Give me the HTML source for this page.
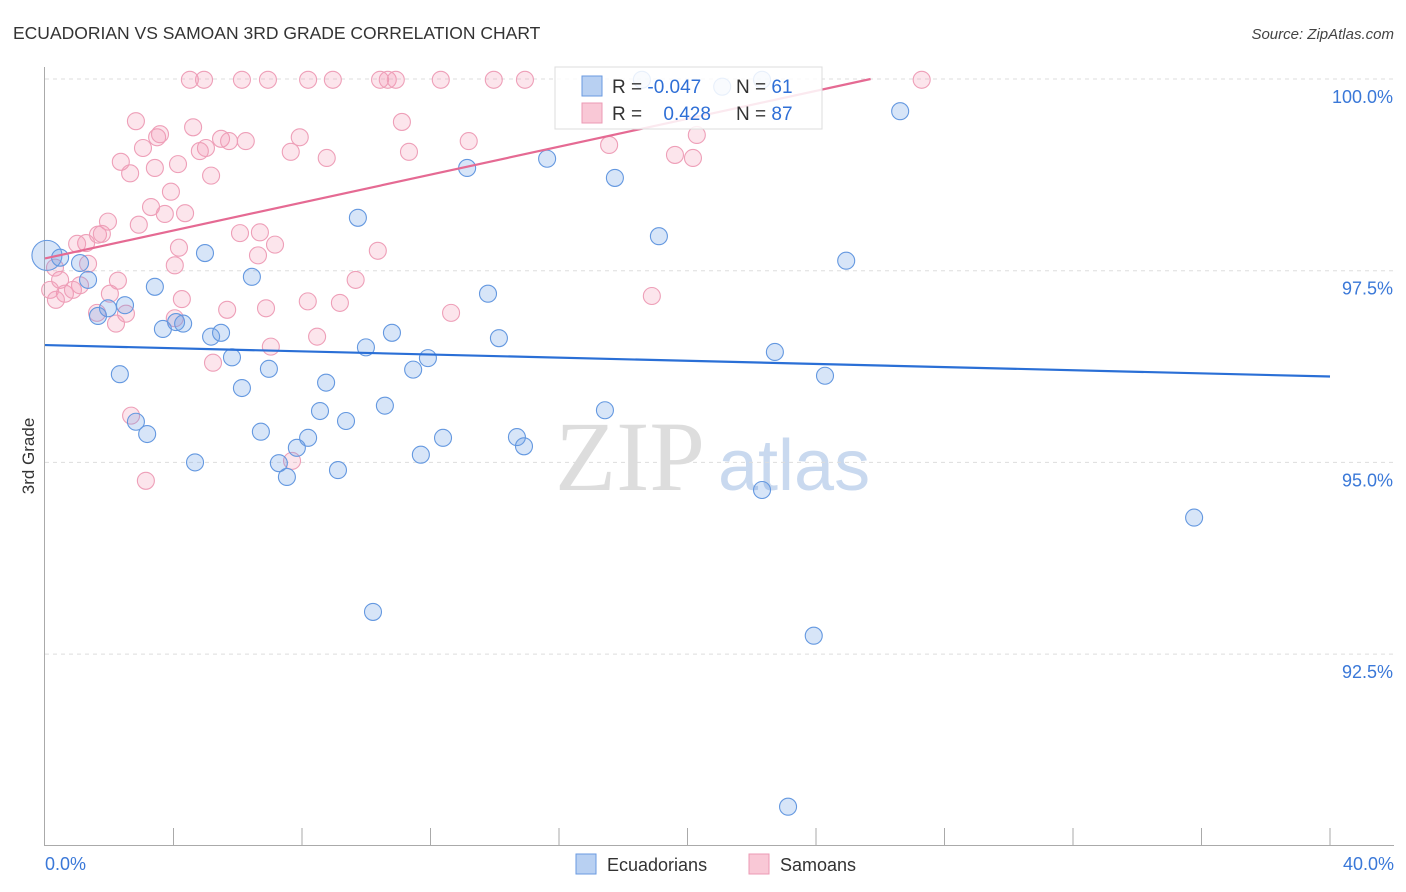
<!DOCTYPE html>
<html><head><meta charset="utf-8"><style>
body{margin:0;background:#fff;font-family:"Liberation Sans",sans-serif;}
#wrap{position:relative;width:1406px;height:892px;overflow:hidden;}
</style></head><body>
<div id="wrap">
<svg id="svg" width="1406" height="892" xmlns="http://www.w3.org/2000/svg">
<text x="13" y="39" font-size="17.5" fill="#333">ECUADORIAN VS SAMOAN 3RD GRADE CORRELATION CHART</text>
<text x="1394" y="39" font-size="15" fill="#444" font-style="italic" text-anchor="end">Source: ZipAtlas.com</text>
<text transform="translate(34,456) rotate(-90)" font-size="17" fill="#333" text-anchor="middle">3rd Grade</text>
<text x="555" y="490" font-size="100" fill="#ddd" font-family="Liberation Serif,serif">ZIP</text>
<text x="718" y="490" font-size="72" fill="#c9d9ef">atlas</text>
<g id="grid"></g><g id="pts"></g><g id="lines"></g>
<g>
<rect x="555" y="67" width="267" height="62" fill="rgba(255,255,255,0.85)" stroke="#ddd"/>
<rect x="582" y="76" width="20" height="20" fill="#b8d0f2" stroke="#6a9ae0"/>
<rect x="582" y="103" width="20" height="20" fill="#f9c8d6" stroke="#ec9ab4"/>
<text x="612" y="93" font-size="19" fill="#333">R = <tspan fill="#2f6fd6">-0.047</tspan></text>
<text x="736" y="93" font-size="19" fill="#333">N = <tspan fill="#2f6fd6"> 61</tspan></text>
<text x="612" y="120" font-size="19" fill="#333">R = <tspan fill="#2f6fd6" dx="16">0.428</tspan></text>
<text x="736" y="120" font-size="19" fill="#333">N = <tspan fill="#2f6fd6">87</tspan></text>
</g>
<g>
<rect x="576" y="854" width="20" height="20" fill="#b8d0f2" stroke="#6a9ae0"/>
<text x="607" y="871" font-size="18" fill="#333">Ecuadorians</text>
<rect x="749" y="854" width="20" height="20" fill="#f9c8d6" stroke="#ec9ab4"/>
<text x="780" y="871" font-size="18" fill="#333">Samoans</text>
</g>
</svg>
</div>
<script>
const yTicks=[100,97.5,95,92.5];
const yTickLabels=["100.0%","97.5%","95.0%","92.5%"];
const xTickLabels=["0.0%","40.0%"];
const blueX=[0.06,0.47,1.09,1.34,1.65,1.96,2.49,2.33,2.83,3.18,3.42,3.67,4.08,4.3,4.67,4.98,5.17,5.48,5.82,6.13,6.44,6.72,6.97,7.28,7.53,7.84,8.19,8.56,8.75,9.12,9.37,9.74,9.99,10.21,10.58,10.8,11.46,11.7,11.92,12.39,13.14,13.79,14.13,14.69,14.91,15.63,17.43,17.74,18.58,19.11,21.08,22.32,22.32,22.72,23.13,23.93,24.28,24.94,26.62,35.77];
const blueY=[97.7,97.67,97.6,97.38,96.91,97.01,97.05,96.15,95.53,95.37,97.29,96.74,96.83,96.81,95.0,97.73,96.64,96.69,96.37,95.97,97.42,95.4,96.22,94.99,94.81,95.19,95.32,95.67,96.04,94.9,95.54,98.19,96.5,93.05,95.74,96.69,96.21,95.1,96.36,95.32,98.84,97.2,96.62,95.33,95.21,98.96,95.68,98.71,99.99,97.95,99.9,99.99,94.64,96.44,90.51,92.74,96.13,97.63,99.58,94.28];
const pinkX=[4.51,4.95,6.13,6.94,8.19,8.96,10.43,10.67,10.92,12.32,13.97,14.94,27.29,2.83,3.05,3.49,3.58,4.61,4.14,5.01,4.82,5.48,5.73,6.25,7.93,7.65,8.77,11.11,11.33,13.19,2.36,2.65,3.42,5.17,3.92,3.30,3.73,4.36,2.92,1.96,1.28,1.0,1.65,1.77,6.07,6.69,4.17,4.04,7.16,6.63,10.36,9.67,8.18,2.27,2.02,1.09,0.47,0.16,0.62,0.34,0.87,0.31,1.34,2.52,2.21,1.62,4.26,4.04,5.23,7.03,5.67,6.88,8.47,9.18,12.64,18.89,7.69,2.68,3.14,17.56,19.61,20.17,20.29];
const pinkY=[99.99,99.99,99.99,99.99,99.99,99.99,99.99,99.99,99.99,99.99,99.99,99.99,99.99,99.45,99.10,99.24,99.28,99.37,98.89,99.10,99.06,99.22,99.19,99.19,99.24,99.05,98.97,99.44,99.05,99.19,98.92,98.77,98.84,98.74,98.53,98.33,98.24,98.25,98.10,98.14,97.86,97.85,97.97,97.98,97.99,98.0,97.80,97.57,97.84,97.70,97.76,97.38,97.1,97.37,97.2,97.31,97.38,97.25,97.2,97.12,97.25,97.54,97.59,96.94,96.81,96.95,97.13,96.88,96.30,96.51,96.99,97.01,96.64,97.08,96.95,97.17,95.02,95.61,94.76,99.14,99.01,98.97,99.27];
const blueTrend=[96.53,96.12];
const pinkTrend=[97.66,100,25.7];
const NS="http://www.w3.org/2000/svg";
const X=v=>45+v/40*1285, Y=v=>79+(100-v)*76.68;
function mk(t,a,p){const e=document.createElementNS(NS,t);for(const k in a)e.setAttribute(k,a[k]);p.appendChild(e);return e;}
const g=document.getElementById('grid');
yTicks.forEach((t,i)=>{
 const l=mk('line',{x1:45,x2:1394,y1:Y(t),y2:Y(t),stroke:'#ddd','stroke-dasharray':'4,4'},g);
 
 
 const tx=mk('text',{x:1393,y:Y(t)+24,'font-size':18,fill:'#3a78d8','text-anchor':'end'},g);
 tx.textContent=yTickLabels[i];
 
 
});
const ax=mk('line',{x1:44.5,x2:44.5,y1:67,y2:846,stroke:'#aaa'},g);


const bx=mk('line',{x1:45,x2:1394,y1:845.5,y2:845.5,stroke:'#aaa'},g);


for(let i=1;i<=10;i++){const t=mk('line',{x1:X(i*4),x2:X(i*4),y1:828,y2:846,stroke:'#aaa'},g);
 
 }
[[0,'start',45],[40,'end',1394]].forEach((d,i)=>{const t=mk('text',{x:d[2],y:870,'font-size':18,fill:'#3a78d8','text-anchor':d[1]},g);t.textContent=xTickLabels[i];
 
 });
const p=document.getElementById('pts');
pinkX.forEach((x,i)=>{const c=mk('circle',{cx:X(x),cy:Y(pinkY[i]),r:8.5,fill:'rgba(244,150,180,0.25)',stroke:'#ee9fb8','stroke-width':1.1},p);
 
 });
blueX.forEach((x,i)=>{const c=mk('circle',{cx:X(x),cy:Y(blueY[i]),r:i==0?15:8.5,fill:'rgba(110,160,230,0.28)',stroke:'#6498e0','stroke-width':1.1},p);
 
 });
const L=document.getElementById('lines');
const b=mk('line',{x1:X(0),y1:Y(blueTrend[0]),x2:X(40),y2:Y(blueTrend[1]),stroke:'#2a6fd6','stroke-width':2.2},L);


const pk=mk('line',{x1:X(0),y1:Y(pinkTrend[0]),x2:X(pinkTrend[2]),y2:Y(pinkTrend[1]),stroke:'#e56a93','stroke-width':2.2},L);


</script>
</body></html>
